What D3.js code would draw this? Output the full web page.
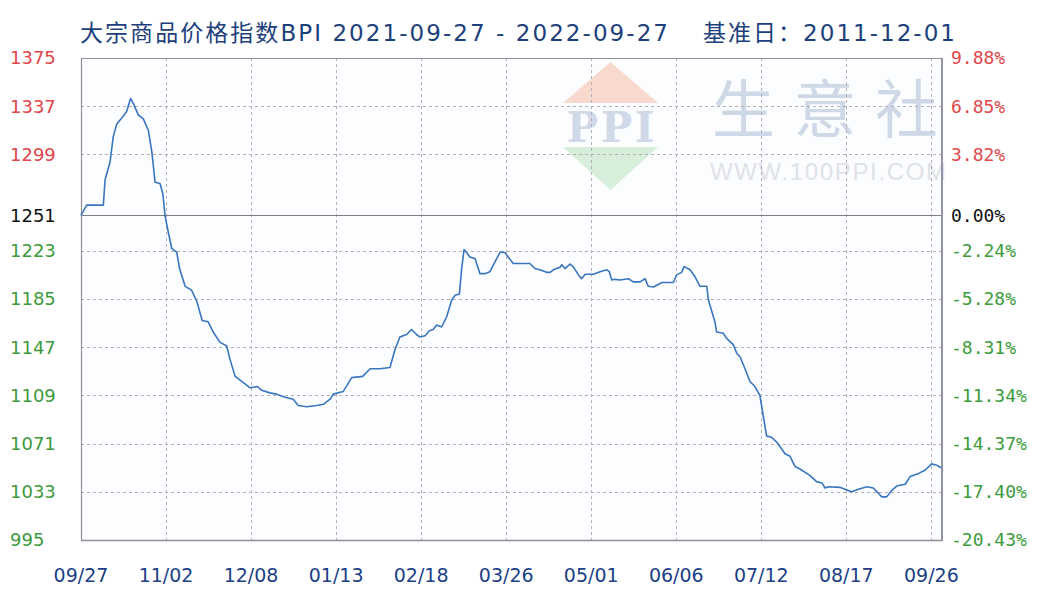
<!DOCTYPE html>
<html>
<head>
<meta charset="utf-8">
<script src="https://cdn.jsdelivr.net/npm/d3@7"></script>
<style>
  html, body { margin: 0; padding: 0; background: #ffffff; }
  svg { display: block; }
</style>
</head>
<body>
<svg id="chart"></svg>
<script>
// BPI values (x = trading-day position, one tick every 24)
const dayIdx = [0, 1.6, 6.3, 6.8, 8.2, 9.1, 10.1, 11.9, 12.9, 14.0, 14.8, 16.2, 17.6, 19.0, 20.0,
  20.9, 22.3, 23.1, 23.7, 24.6, 25.6, 27.0, 27.9, 29.4, 31.2, 32.7, 34.2, 35.9, 37.3, 39.2,
  41.1, 42.1, 43.5, 44.9, 46.3, 47.7, 49.8, 51.0, 53.3, 55.2, 57.6, 59.9, 61.3, 63.7, 66.5,
  68.4, 70.3, 71.2, 74.0, 76.4, 79.5, 81.6, 84.4, 87.2, 88.6, 90.0, 91.9, 93.3, 94.7, 95.7,
  97.1, 98.3, 99.4, 100.4, 101.8, 103.2, 104.6, 105.6, 106.8, 107.4, 108.1, 108.7, 109.8, 111.2, 112.6,
  114.0, 115.4, 116.8, 118.3, 119.7, 120.6, 122.0, 126.7, 128.1, 129.5, 131.4, 132.4, 133.3, 135.2, 135.7,
  136.6, 138.0, 138.9, 140.4, 141.3, 142.3, 144.6, 146.5, 148.4, 149.1, 149.8, 150.7, 152.1, 154.5, 155.9,
  157.8, 159.2, 160.1, 161.5, 162.9, 163.9, 167.2, 168.1, 169.5, 170.2, 171.9, 173.3, 174.7, 176.6, 177.1,
  178.9, 179.4, 181.3, 182.2, 184.1, 185.1, 186.0, 187.4, 188.8, 190.2, 191.6, 192.6, 193.5, 194.9, 196.4,
  198.7, 200.1, 201.5, 202.9, 205.7, 207.6, 209.1, 210.0, 210.9, 214.2, 215.6, 217.5, 219.4, 221.8, 223.6,
  225.0, 226.0, 227.4, 228.8, 230.2, 232.6, 234.0, 236.4, 238.2, 240.1, 241.5, 242.7];
const bpi = [1251, 1259, 1259, 1279, 1293, 1313, 1323, 1329, 1333, 1343, 1339, 1330, 1327, 1318, 1301,
  1277, 1276, 1268, 1251, 1238, 1225, 1222, 1208, 1195, 1192, 1183, 1168, 1167, 1159, 1151,
  1148, 1137, 1124, 1121, 1118, 1115, 1116, 1113, 1111, 1110, 1107.5, 1106, 1101, 1100, 1101,
  1102, 1106, 1110, 1112, 1123, 1124, 1130, 1130, 1131, 1145, 1155, 1157, 1161, 1157, 1155,
  1156, 1160, 1161, 1164.5, 1163, 1171, 1184, 1188, 1189, 1208, 1224, 1222, 1218, 1217, 1205,
  1205, 1206.5, 1214, 1222, 1221.5, 1218, 1213, 1213, 1209, 1208, 1206, 1206, 1208, 1210, 1212,
  1209, 1212.5, 1210.5, 1204, 1201, 1204.5, 1204.5, 1206.5, 1208, 1206.5, 1200, 1200.5, 1200, 1201, 1198.5,
  1198.5, 1201, 1195, 1194.5, 1196.5, 1198, 1198, 1204, 1206, 1210.5, 1208, 1202.5, 1195, 1195, 1184,
  1167, 1159, 1158, 1154, 1149, 1142, 1139.5, 1130, 1120, 1116, 1109, 1092, 1077, 1076, 1072,
  1063, 1061, 1053, 1051, 1046, 1041, 1040, 1036, 1037, 1036.5, 1035, 1033, 1035, 1037, 1036,
  1032, 1029, 1029, 1034, 1037.5, 1039, 1045, 1047.5, 1050, 1055, 1054, 1052];

const xTickIdx = [0, 24, 48, 72, 96, 120, 144, 168, 192, 216, 240];
const xTickLabels = ["09/27", "11/02", "12/08", "01/13", "02/18", "03/26", "05/01", "06/06", "07/12", "08/17", "09/26"];
const yTicks = [1375, 1337, 1299, 1251, 1223, 1185, 1147, 1109, 1071, 1033, 995];
const pctLabels = ["9.88%", "6.85%", "3.82%", "0.00%", "-2.24%", "-5.28%", "-8.31%", "-11.34%", "-14.37%", "-17.40%", "-20.43%"];
const baseValue = 1251;

const W = 1040, H = 600;
const margin = {top: 58, right: 98, bottom: 60, left: 81};
const plotW = W - margin.left - margin.right,
      plotH = H - margin.top - margin.bottom;

const svg = d3.select("#chart").attr("width", W).attr("height", H);

const x = d3.scaleLinear().domain([0, 243]).range([0, plotW]);
const y = d3.scaleLinear().domain([995, 1375]).range([plotH, 0]);

// title, two pieces
const titleFont = "'DejaVu Sans', 'Noto Sans CJK SC', sans-serif";
svg.append("text")
    .attr("x", 80).attr("y", 41)
    .attr("fill", "#1d3f7c")
    .style("font-family", titleFont)
    .style("font-size", "23px")
    .attr("textLength", 588)
    .attr("lengthAdjust", "spacing")
    .text("大宗商品价格指数BPI 2021-09-27 - 2022-09-27");
svg.append("text")
    .attr("x", 703).attr("y", 41)
    .attr("fill", "#1d3f7c")
    .style("font-family", titleFont)
    .style("font-size", "23px")
    .attr("textLength", 252)
    .attr("lengthAdjust", "spacing")
    .text("基准日：2011-12-01");

const chart = svg.append("g")
    .attr("transform", `translate(${margin.left},${margin.top})`);

chart.append("rect")
    .attr("width", plotW).attr("height", plotH)
    .attr("fill", "#fcfdff");

// watermark
const wm = chart.append("g").attr("transform", `translate(${563 - margin.left},${62 - margin.top})`);
wm.append("path").attr("d", "M0,41 L47.5,0 L95,41 Z").attr("fill", "#f7d9cd");
wm.append("path").attr("d", "M0,85 L95,85 L47.5,128 Z").attr("fill", "#d7eedb");
wm.append("text")
    .attr("x", 47.5).attr("y", 80).attr("text-anchor", "middle")
    .attr("fill", "#cfd9e8")
    .style("font-family", "'DejaVu Serif', serif")
    .style("font-size", "42px")
    .style("font-weight", "bold")
    .attr("textLength", 88)
    .text("PPI");
wm.append("text")
    .attr("x", 149).attr("y", 70)
    .attr("fill", "#cfd8e6")
    .style("font-family", "'Noto Sans CJK SC', sans-serif")
    .style("font-size", "63px")
    .attr("textLength", 226)
    .attr("lengthAdjust", "spacing")
    .text("生意社");
wm.append("text")
    .attr("x", 147).attr("y", 118)
    .attr("fill", "#dfe2e8")
    .style("font-family", "'Liberation Sans', sans-serif")
    .style("font-size", "24px")
    .attr("textLength", 236)
    .text("WWW.100PPI.COM");

// grid
chart.append("g")
    .selectAll("line")
    .data(yTicks.filter(v => v !== 1375 && v !== 995 && v !== baseValue))
    .join("line")
    .attr("x1", 0).attr("x2", plotW)
    .attr("y1", d => Math.round(y(d)) + 0.5).attr("y2", d => Math.round(y(d)) + 0.5)
    .attr("stroke", "#b5adba").attr("stroke-dasharray", "3,3");

chart.append("g")
    .selectAll("line")
    .data(xTickIdx.filter(v => v > 0))
    .join("line")
    .attr("x1", d => Math.round(x(d)) + 0.5).attr("x2", d => Math.round(x(d)) + 0.5)
    .attr("y1", 0).attr("y2", plotH)
    .attr("stroke", "#b5adba").attr("stroke-dasharray", "3,3");

// base line
chart.append("line")
    .attr("x1", 0).attr("x2", plotW)
    .attr("y1", Math.round(y(baseValue)) + 0.5).attr("y2", Math.round(y(baseValue)) + 0.5)
    .attr("stroke", "#7f7f85").attr("stroke-width", 1.2);

// border
chart.append("path")
    .attr("d", `M0.5,${plotH} V0.5 H${plotW}`)
    .attr("fill", "none").attr("stroke", "#8e8e96").attr("stroke-width", 1.2);
chart.append("line")
    .attr("x1", 0).attr("x2", plotW).attr("y1", plotH + 0.5).attr("y2", plotH + 0.5)
    .attr("stroke", "#8e8e96").attr("stroke-width", 1.5);
chart.append("line")
    .attr("x1", plotW).attr("x2", plotW).attr("y1", 0).attr("y2", plotH + 1)
    .attr("stroke", "#9392ab").attr("stroke-width", 2);

// BPI line
const series = dayIdx.map((d, i) => ({i: d, v: bpi[i]}));
chart.append("path")
    .datum(series)
    .attr("d", d3.line().x(d => x(d.i)).y(d => y(d.v)))
    .attr("fill", "none")
    .attr("stroke", "#3a76bf")
    .attr("stroke-width", 1.6)
    .attr("stroke-linejoin", "round");

// left labels
const tickColor = v => v > baseValue ? "#e0464a" : v === baseValue ? "#111111" : "#3d9a3d";
svg.append("g")
    .selectAll("text")
    .data(yTicks)
    .join("text")
    .attr("x", 10)
    .attr("y", d => margin.top + y(d))
    .attr("dy", "0.35em")
    .attr("fill", tickColor)
    .style("font-family", "'DejaVu Sans', sans-serif")
    .style("font-size", "18px")
    .text(d => d);

// right labels
svg.append("g")
    .selectAll("text")
    .data(yTicks)
    .join("text")
    .attr("x", 951)
    .attr("y", d => margin.top + y(d))
    .attr("dy", "0.35em")
    .attr("fill", tickColor)
    .style("font-family", "'DejaVu Sans Mono', monospace")
    .style("font-size", "18px")
    .text((d, i) => pctLabels[i]);

// x labels
svg.append("g")
    .selectAll("text")
    .data(xTickIdx)
    .join("text")
    .attr("x", d => margin.left + x(d))
    .attr("y", 582)
    .attr("text-anchor", "middle")
    .attr("fill", "#1c3f86")
    .style("font-family", "'DejaVu Sans', sans-serif")
    .style("font-size", "19px")
    .text((d, i) => xTickLabels[i]);
</script>
</body>
</html>
